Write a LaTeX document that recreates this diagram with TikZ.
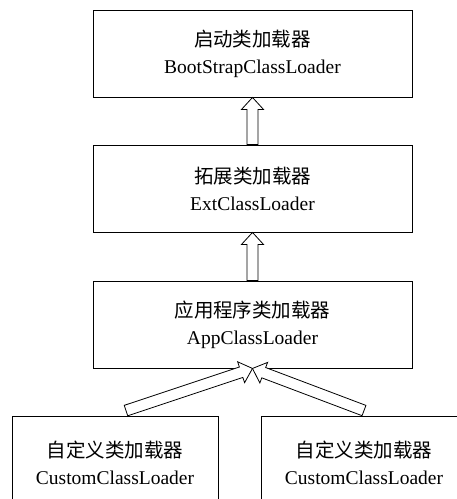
\documentclass[tikz,border=0pt]{standalone}
\usepackage{fontspec}
\setmainfont{Liberation Serif}
\newfontfamily\zhfont{Noto Sans CJK SC}
\usetikzlibrary{calc}

\newcommand{\hollowarrow}[2]{%
  \coordinate (hb) at ($(#2)!12pt!(#1)$);
  \draw[hollow] ($(#1)!5.5pt!90:(#2)$) -- ($(hb)!5.5pt!90:(#2)$)
    -- ($(hb)!11pt!90:(#2)$) -- (#2) -- ($(hb)!11pt!-90:(#2)$)
    -- ($(hb)!5.5pt!-90:(#2)$) -- ($(#1)!5.5pt!-90:(#2)$) -- cycle;}

\begin{document}
\begin{tikzpicture}[
  x=1pt, y=1pt,
  box/.style={draw, line width=0.9pt, inner sep=0pt, align=center,
    minimum width=319pt, minimum height=87pt,
    font=\fontsize{19.5}{27}\selectfont},
  custom/.style={box, minimum width=206pt, minimum height=94pt},
  hollow/.style={draw, fill=white, line width=0.8pt, line join=miter}
]
\useasboundingbox (0,0) rectangle (457,499);
\clip (0,0) rectangle (457,499);

\node[box] (boot) at (252.5,445.5) {{\zhfont 启动类加载器}\\BootStrapClassLoader};
\node[box] (ext) at (252.5,310.5) {{\zhfont 拓展类加载器}\\ExtClassLoader};
\node[box] (app) at (252.5,174.5) {{\zhfont 应用程序类加载器}\\AppClassLoader};
\node[custom] (cust1) at (115,36) {{\zhfont 自定义类加载器}\\CustomClassLoader};
\node[custom] (cust2) at (364,36) {{\zhfont 自定义类加载器}\\CustomClassLoader};

\coordinate (t1) at ([shift={(11,5)}]cust1.north);
\coordinate (t2) at ([shift={(0,5)}]cust2.north);

\hollowarrow{ext.north}{boot.south}
\hollowarrow{app.north}{ext.south}
\hollowarrow{t1}{app.south}
\hollowarrow{t2}{app.south}
\end{tikzpicture}
\end{document}
